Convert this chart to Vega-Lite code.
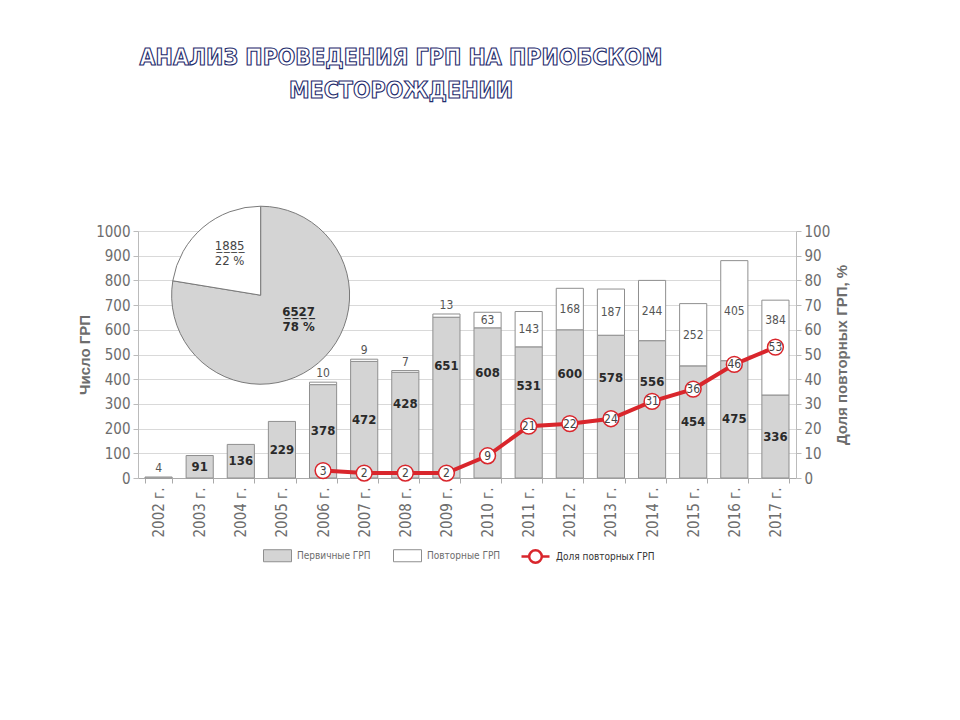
{
  "$schema": "https://vega.github.io/schema/vega-lite/v6.json",
  "width": 658,
  "height": 247,
  "padding": {"left": 77, "top": 47, "right": 20, "bottom": 20},
  "background": "white",
  "title": {
    "text": ["АНАЛИЗ ПРОВЕДЕНИЯ ГРП НА ПРИОБСКОМ", "МЕСТОРОЖДЕНИИ"],
    "font": "Liberation Sans Narrow, Arial Narrow, DejaVu Sans Condensed, sans-serif",
    "fontSize": 23,
    "fontWeight": "bold",
    "lineHeight": 33,
    "dx": -66,
    "offset": 101,
    "anchor": "middle"
  },
  "datasets": {
    "main": [
      {"year": "2002 г.", "primary": 4, "repeat": 0, "share": null},
      {"year": "2003 г.", "primary": 91, "repeat": 0, "share": null},
      {"year": "2004 г.", "primary": 136, "repeat": 0, "share": null},
      {"year": "2005 г.", "primary": 229, "repeat": 0, "share": null},
      {"year": "2006 г.", "primary": 378, "repeat": 10, "share": 3},
      {"year": "2007 г.", "primary": 472, "repeat": 9, "share": 2},
      {"year": "2008 г.", "primary": 428, "repeat": 7, "share": 2},
      {"year": "2009 г.", "primary": 651, "repeat": 13, "share": 2},
      {"year": "2010 г.", "primary": 608, "repeat": 63, "share": 9},
      {"year": "2011 г.", "primary": 531, "repeat": 143, "share": 21},
      {"year": "2012 г.", "primary": 600, "repeat": 168, "share": 22},
      {"year": "2013 г.", "primary": 578, "repeat": 187, "share": 24},
      {"year": "2014 г.", "primary": 556, "repeat": 244, "share": 31},
      {"year": "2015 г.", "primary": 454, "repeat": 252, "share": 36},
      {"year": "2016 г.", "primary": 475, "repeat": 405, "share": 46},
      {"year": "2017 г.", "primary": 336, "repeat": 384, "share": 53}
    ],
    "pie": [
      {"slice": "primary", "n": 6527, "pct": 78},
      {"slice": "repeat", "n": 1885, "pct": 22}
    ]
  },
  "data": {"name": "main"},
  "encoding": {
    "x": {
      "field": "year",
      "type": "nominal",
      "title": null,
      "scale": {"paddingInner": 0.34, "paddingOuter": 0.17},
      "axis": {
        "labelAngle": -90,
        "labelFont": "Liberation Sans Narrow, Arial Narrow, DejaVu Sans Condensed, sans-serif",
        "labelFontSize": 15,
        "labelColor": "#6d6d6d",
        "labelPadding": 4,
        "domainColor": "#aaaaaa",
        "tickColor": "#aaaaaa",
        "tickBand": "extent",
        "tickSize": 5,
        "grid": false
      }
    }
  },
  "layer": [
    {
      "layer": [
        {
          "transform": [
            {"fold": ["primary", "repeat"], "as": ["part", "count"]},
            {"filter": "datum.count > 0"}
          ],
          "mark": {"type": "bar", "stroke": "#8f8f8f", "strokeWidth": 1},
          "encoding": {
            "y": {
              "field": "count",
              "type": "quantitative",
              "stack": "zero",
              "scale": {"domain": [0, 1000], "nice": false},
              "axis": {
                "title": "Число ГРП",
                "titleFont": "Liberation Sans, Arial, sans-serif",
                "titleFontSize": 15,
                "titleFontWeight": "bold",
                "titleColor": "#6d6d6d",
                "titlePadding": 3,
                "tickCount": 10,
                "format": "d",
                "labelFont": "Liberation Sans Narrow, Arial Narrow, DejaVu Sans Condensed, sans-serif",
                "labelFontSize": 15,
                "labelColor": "#6d6d6d",
                "labelPadding": 3,
                "tickSize": 5,
                "tickColor": "#bbbbbb",
                "domainColor": "#bbbbbb",
                "grid": true,
                "gridColor": "#d9d9d9"
              }
            },
            "color": {
              "field": "part",
              "type": "nominal",
              "scale": {"domain": ["primary", "repeat"], "range": ["#d4d4d4", "#ffffff"]},
              "legend": {
                "orient": "none",
                "legendX": 125,
                "legendY": 310,
                "direction": "horizontal",
                "columns": 2,
                "title": null,
                "labelExpr": "datum.value === 'primary' ? 'Первичные ГРП' : 'Повторные ГРП'",
                "labelFont": "Liberation Sans Narrow, Arial Narrow, DejaVu Sans Condensed, sans-serif",
                "labelFontSize": 10,
                "labelColor": "#6d6d6d",
                "symbolType": "M-1,-0.43H1V0.43H-1Z",
                "symbolSize": 784,
                "symbolStrokeColor": "#8f8f8f",
                "symbolStrokeWidth": 1,
                "symbolOpacity": 1,
                "columnPadding": 20,
                "labelOffset": 5
              }
            },
            "order": {"field": "part", "type": "ordinal", "sort": "ascending"}
          }
        },
        {
          "transform": [
            {"fold": ["primary", "repeat"], "as": ["part", "count"]},
            {"stack": "count", "groupby": ["year"], "sort": [{"field": "part", "order": "ascending"}], "as": ["c0", "c1"]},
            {"filter": "datum.part === 'repeat' && datum.count > 0 && datum.count < 50"}
          ],
          "mark": {"type": "text", "baseline": "bottom", "dy": -2, "font": "Liberation Sans Narrow, Arial Narrow, DejaVu Sans Condensed, sans-serif", "fontSize": 12, "color": "#555555"},
          "encoding": {
            "y": {"field": "c1", "type": "quantitative"},
            "text": {"field": "count", "type": "quantitative"}
          }
        },
        {
          "transform": [
            {"fold": ["primary", "repeat"], "as": ["part", "count"]},
            {"stack": "count", "groupby": ["year"], "sort": [{"field": "part", "order": "ascending"}], "as": ["c0", "c1"]},
            {"aggregate": [{"op": "mean", "field": "c1", "as": "mid"}, {"op": "max", "field": "repeat", "as": "r"}], "groupby": ["year"]},
            {"filter": "datum.r >= 50 && datum.year !== '2017 г.'"}
          ],
          "mark": {"type": "text", "font": "Liberation Sans Narrow, Arial Narrow, DejaVu Sans Condensed, sans-serif", "fontSize": 12, "color": "#555555"},
          "encoding": {
            "y": {"field": "mid", "type": "quantitative"},
            "text": {"field": "r", "type": "quantitative"}
          }
        },
        {
          "transform": [
            {"fold": ["primary", "repeat"], "as": ["part", "count"]},
            {"stack": "count", "groupby": ["year"], "sort": [{"field": "part", "order": "ascending"}], "as": ["c0", "c1"]},
            {"filter": "datum.part === 'repeat' && datum.year === '2017 г.'"}
          ],
          "mark": {"type": "text", "baseline": "top", "dy": 15, "font": "Liberation Sans Narrow, Arial Narrow, DejaVu Sans Condensed, sans-serif", "fontSize": 12, "color": "#555555"},
          "encoding": {
            "y": {"field": "c1", "type": "quantitative"},
            "text": {"field": "count", "type": "quantitative"}
          }
        },
        {
          "transform": [{"filter": "datum.primary < 50"}],
          "mark": {"type": "text", "baseline": "bottom", "dy": -2, "font": "Liberation Sans Narrow, Arial Narrow, DejaVu Sans Condensed, sans-serif", "fontSize": 12, "color": "#555555"},
          "encoding": {
            "y": {"field": "primary", "type": "quantitative"},
            "text": {"field": "primary", "type": "quantitative"}
          }
        },
        {
          "data": {"name": "pie"},
          "mark": {"type": "arc", "outerRadius": 89, "stroke": "#7a7a7a", "strokeWidth": 1},
          "encoding": {
            "x": {"datum": "2004 г.", "bandPosition": 1.23},
            "y": {"datum": 740, "type": "quantitative"},
            "theta": {"field": "n", "type": "quantitative", "stack": true},
            "color": {"field": "slice", "type": "nominal", "legend": null},
            "order": {"field": "slice", "type": "ordinal", "sort": "ascending"}
          }
        },
        {
          "data": {"name": "pie"},
          "transform": [{"filter": "datum.slice === 'repeat'"}],
          "mark": {"type": "text", "dx": -31, "font": "Liberation Sans Narrow, Arial Narrow, DejaVu Sans Condensed, sans-serif", "fontSize": 13, "color": "#444444", "text": {"expr": "replace(datum.n + '', /(\\d)/g, '$1\\u0332')"}},
          "encoding": {
            "x": {"datum": "2004 г.", "bandPosition": 1.23},
            "y": {"datum": 939, "type": "quantitative"}
          }
        },
        {
          "data": {"name": "pie"},
          "transform": [{"filter": "datum.slice === 'repeat'"}],
          "mark": {"type": "text", "dx": -31, "font": "Liberation Sans Narrow, Arial Narrow, DejaVu Sans Condensed, sans-serif", "fontSize": 13, "color": "#444444", "text": {"expr": "datum.pct + ' %'"}},
          "encoding": {
            "x": {"datum": "2004 г.", "bandPosition": 1.23},
            "y": {"datum": 878, "type": "quantitative"}
          }
        },
        {
          "data": {"name": "pie"},
          "transform": [{"filter": "datum.slice === 'primary'"}],
          "mark": {"type": "text", "dx": 38, "font": "Liberation Sans Narrow, Arial Narrow, DejaVu Sans Condensed, sans-serif", "fontSize": 13, "fontWeight": "bold", "color": "#2a2a2a", "text": {"expr": "replace(datum.n + '', /(\\d)/g, '$1\\u0332')"}},
          "encoding": {
            "x": {"datum": "2004 г.", "bandPosition": 1.23},
            "y": {"datum": 672, "type": "quantitative"}
          }
        },
        {
          "data": {"name": "pie"},
          "transform": [{"filter": "datum.slice === 'primary'"}],
          "mark": {"type": "text", "dx": 38, "font": "Liberation Sans Narrow, Arial Narrow, DejaVu Sans Condensed, sans-serif", "fontSize": 13, "fontWeight": "bold", "color": "#2a2a2a", "text": {"expr": "datum.pct + ' %'"}},
          "encoding": {
            "x": {"datum": "2004 г.", "bandPosition": 1.23},
            "y": {"datum": 611, "type": "quantitative"}
          }
        }
      ]
    },
    {
      "transform": [{"filter": "datum.share != null"}],
      "encoding": {
        "y": {
          "field": "share",
          "type": "quantitative",
          "scale": {"domain": [0, 100], "nice": false},
          "axis": {
            "orient": "right",
            "title": "Доля повторных ГРП, %",
            "titleAngle": 270,
            "titleFont": "Liberation Sans, Arial, sans-serif",
            "titleFontSize": 15,
            "titleFontWeight": "bold",
            "titleColor": "#6d6d6d",
            "titlePadding": 20,
            "tickCount": 10,
            "labelFont": "Liberation Sans Narrow, Arial Narrow, DejaVu Sans Condensed, sans-serif",
            "labelFontSize": 15,
            "labelColor": "#6d6d6d",
            "labelPadding": 3,
            "tickSize": 5,
            "tickColor": "#bbbbbb",
            "domainColor": "#bbbbbb",
            "grid": false
          }
        }
      },
      "layer": [
        {
          "mark": {"type": "line", "strokeWidth": 4},
          "encoding": {
            "stroke": {
              "datum": "Доля повторных ГРП",
              "scale": {"range": ["#d9262c"]},
              "legend": {
                "orient": "none",
                "legendX": 382,
                "legendY": 310,
                "title": null,
                "labelFont": "Liberation Sans Narrow, Arial Narrow, DejaVu Sans Condensed, sans-serif",
                "labelFontSize": 10,
                "labelColor": "#333333",
                "symbolType": "M-1,0H-0.45M0.45,0H1M0.45,0A0.45,0.45,0,1,1,-0.45,0A0.45,0.45,0,1,1,0.45,0",
                "symbolSize": 784,
                "symbolStrokeWidth": 2.5,
                "symbolFillColor": "#ffffff",
                "symbolOpacity": 1,
                "labelOffset": 5
              }
            }
          }
        },
        {
          "mark": {"type": "point", "filled": true, "fill": "#ffffff", "stroke": "#d9262c", "strokeWidth": 1.5, "size": 250, "opacity": 1}
        },
        {
          "mark": {"type": "text", "font": "Liberation Sans Narrow, Arial Narrow, DejaVu Sans Condensed, sans-serif", "fontSize": 12, "color": "#444444"},
          "encoding": {"text": {"field": "share", "type": "quantitative"}}
        }
      ]
    },
    {
      "transform": [{"filter": {"field": "year", "oneOf": ["2003 г.", "2004 г.", "2005 г.", "2006 г.", "2007 г.", "2015 г.", "2016 г.", "2017 г."]}}],
      "mark": {"type": "text", "font": "Liberation Sans Narrow, Arial Narrow, DejaVu Sans Condensed, sans-serif", "fontSize": 13, "fontWeight": "bold", "color": "#2a2a2a"},
      "encoding": {
        "y": {"field": "primary", "type": "quantitative", "scale": {"domain": [0, 2000], "nice": false}, "axis": null},
        "text": {"field": "primary", "type": "quantitative"}
      }
    },
    {
      "transform": [{"filter": {"field": "year", "oneOf": ["2008 г.", "2009 г.", "2010 г.", "2011 г.", "2012 г.", "2013 г.", "2014 г."]}}],
      "mark": {"type": "text", "font": "Liberation Sans Narrow, Arial Narrow, DejaVu Sans Condensed, sans-serif", "fontSize": 13, "fontWeight": "bold", "color": "#2a2a2a"},
      "encoding": {
        "y": {"field": "primary", "type": "quantitative", "scale": {"domain": [0, 1430], "nice": false}, "axis": null},
        "text": {"field": "primary", "type": "quantitative"}
      }
    }
  ],
  "resolve": {"scale": {"y": "independent"}},
  "config": {
    "view": {"stroke": null},
    "style": {"group-title": {"fill": "#ffffff", "stroke": "#1f2d6e", "strokeWidth": 1.1}}
  }
}
